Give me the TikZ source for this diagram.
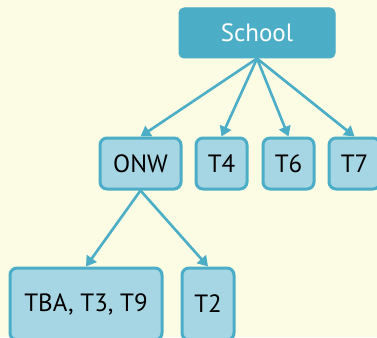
\documentclass[tikz,border=0pt]{standalone}
\usepackage{fontspec}
\setmainfont{PT Sans}
\usetikzlibrary{arrows.meta,positioning}

\definecolor{bgcream}{HTML}{FCFBE4}
\definecolor{topblue}{HTML}{4BADC6}
\definecolor{boxblue}{HTML}{A6D6E3}

\begin{document}
\begin{tikzpicture}[x=1pt,y=-1pt,
    topbox/.style={draw=topblue,fill=topblue,rounded corners=5pt,line width=1pt,
      text=white,font=\fontsize{25}{29}\selectfont,minimum width=156pt,minimum height=50pt},
    leafbox/.style={draw=topblue,fill=boxblue,rounded corners=7pt,line width=3pt,
      text=black,font=\fontsize{25}{29}\selectfont,minimum height=51pt},
    link/.style={draw=topblue,line width=2.6pt,-{Triangle[length=10pt,width=12pt]}}]
%      \draw[help lines] (0,0) grid (377,337);
      \fill[bgcream] (0,0) rectangle (377,337);
      \useasboundingbox (0,0) rectangle (377,337);

      \node[topbox] (school) at (257,33) {School};

      \node[leafbox,minimum width=81pt] (onw) at (140.5,163.5) {ONW};
      \node[leafbox,minimum width=51pt] (t4)  at (221.5,163.5) {T4};
      \node[leafbox,minimum width=51pt] (t6)  at (288.5,163.5) {T6};
      \node[leafbox,minimum width=51pt] (t7)  at (354.5,163.5) {T7};

      \node[leafbox,minimum width=152pt,minimum height=72pt] (tba) at (86,304) {TBA, T3, T9};
      \node[leafbox,minimum width=52pt,minimum height=72pt] (t2)  at (208,304) {T2};

      \draw[link] (school.south) -- (onw.north);
      \draw[link] (school.south) -- (t4.north);
      \draw[link] (school.south) -- (t6.north);
      \draw[link] (school.south) -- (t7.north);

      \draw[link] (onw.south) -- (tba.north);
      \draw[link] (onw.south) -- (t2.north);
\end{tikzpicture}
\end{document}
